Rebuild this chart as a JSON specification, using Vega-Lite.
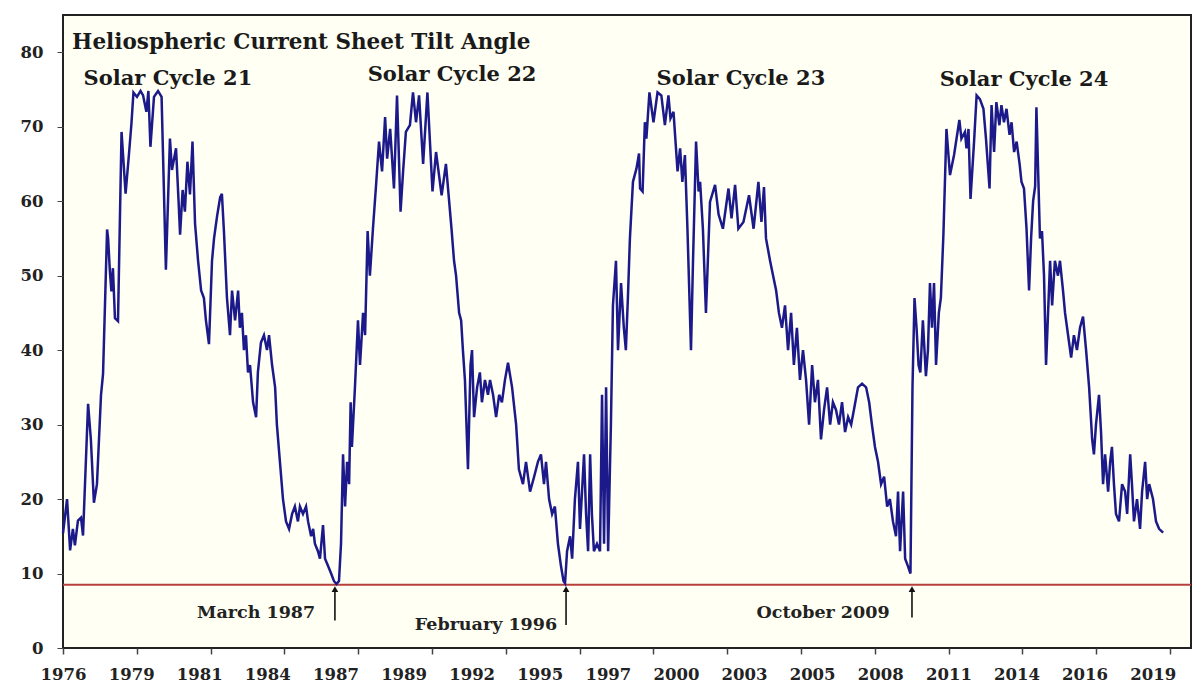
{
  "$schema": "https://vega.github.io/schema/vega-lite/v6.json",
  "width": 1128,
  "height": 633,
  "autosize": {"type": "none"},
  "padding": {"left": 63, "top": 15, "right": 13, "bottom": 51},
  "background": "#ffffff",
  "config": {
    "view": {"fill": "#fffff3", "stroke": "#222222", "strokeWidth": 2},
    "axis": {"labelFont": "DejaVu Serif", "labelFontWeight": "bold", "labelFontSize": 16.5, "labelColor": "#222222", "tickColor": "#444444", "grid": false, "title": null, "domain": false}
  },
  "datasets": {
    "tilt": [
      {"t":1976.38,"v":15.4},{"t":1976.54,"v":20},{"t":1976.66,"v":13.1},{"t":1976.77,"v":16},{"t":1976.85,"v":13.8},{"t":1976.97,"v":17.1},{"t":1977.09,"v":17.5},{"t":1977.17,"v":15.1},{"t":1977.37,"v":32.8},{"t":1977.48,"v":28},{"t":1977.60,"v":19.5},{"t":1977.72,"v":22},{"t":1977.88,"v":34},{"t":1977.96,"v":36.8},{"t":1978.12,"v":56.2},{"t":1978.16,"v":55},{"t":1978.23,"v":50.6},{"t":1978.29,"v":47.9},{"t":1978.35,"v":51},{"t":1978.43,"v":44.3},{"t":1978.55,"v":43.9},{"t":1978.69,"v":69.3},{"t":1978.85,"v":61},{"t":1978.98,"v":66.2},{"t":1979.08,"v":70.4},{"t":1979.16,"v":74.6},{"t":1979.30,"v":74},{"t":1979.44,"v":74.8},{"t":1979.54,"v":74.2},{"t":1979.67,"v":72},{"t":1979.75,"v":74.8},{"t":1979.83,"v":67.3},{"t":1979.97,"v":74},{"t":1980.13,"v":74.8},{"t":1980.27,"v":74},{"t":1980.44,"v":50.8},{"t":1980.60,"v":68.4},{"t":1980.68,"v":64.2},{"t":1980.84,"v":67.1},{"t":1980.94,"v":60},{"t":1981.00,"v":55.5},{"t":1981.10,"v":61.5},{"t":1981.19,"v":58.6},{"t":1981.29,"v":65.3},{"t":1981.39,"v":60.9},{"t":1981.49,"v":68},{"t":1981.59,"v":57},{"t":1981.71,"v":52},{"t":1981.83,"v":48},{"t":1981.94,"v":47},{"t":1982.02,"v":44},{"t":1982.14,"v":40.8},{"t":1982.26,"v":52},{"t":1982.34,"v":55},{"t":1982.46,"v":58},{"t":1982.58,"v":60.5},{"t":1982.65,"v":61},{"t":1982.73,"v":56},{"t":1982.85,"v":47},{"t":1982.97,"v":42},{"t":1983.05,"v":48},{"t":1983.17,"v":44},{"t":1983.29,"v":48},{"t":1983.36,"v":43},{"t":1983.44,"v":45},{"t":1983.52,"v":40},{"t":1983.60,"v":42},{"t":1983.68,"v":37},{"t":1983.76,"v":38},{"t":1983.88,"v":33},{"t":1984.00,"v":31},{"t":1984.07,"v":37},{"t":1984.19,"v":41},{"t":1984.31,"v":42},{"t":1984.43,"v":40},{"t":1984.51,"v":42},{"t":1984.63,"v":38},{"t":1984.75,"v":35},{"t":1984.82,"v":30},{"t":1984.94,"v":25},{"t":1985.06,"v":20},{"t":1985.18,"v":17},{"t":1985.30,"v":16},{"t":1985.42,"v":18},{"t":1985.53,"v":19},{"t":1985.65,"v":17},{"t":1985.73,"v":19},{"t":1985.85,"v":18},{"t":1985.97,"v":19},{"t":1986.05,"v":17},{"t":1986.17,"v":15},{"t":1986.25,"v":16},{"t":1986.32,"v":14},{"t":1986.44,"v":13},{"t":1986.52,"v":12},{"t":1986.64,"v":16.5},{"t":1986.72,"v":12},{"t":1986.84,"v":11},{"t":1986.96,"v":10},{"t":1987.07,"v":9},{"t":1987.17,"v":8.6},
      {"t":1987.27,"v":9},{"t":1987.35,"v":14},{"t":1987.43,"v":26},{"t":1987.51,"v":19},{"t":1987.59,"v":25},{"t":1987.67,"v":22},{"t":1987.73,"v":33},{"t":1987.78,"v":27},{"t":1987.90,"v":35},{"t":1988.02,"v":44},{"t":1988.10,"v":38},{"t":1988.22,"v":45},{"t":1988.30,"v":42},{"t":1988.40,"v":56},{"t":1988.49,"v":50},{"t":1988.61,"v":56.3},{"t":1988.73,"v":62},{"t":1988.85,"v":68},{"t":1988.97,"v":64},{"t":1989.09,"v":71.3},{"t":1989.17,"v":65.7},{"t":1989.29,"v":69.7},{"t":1989.44,"v":61.7},{"t":1989.56,"v":74.2},{"t":1989.70,"v":58.6},{"t":1989.80,"v":64},{"t":1989.91,"v":69.3},{"t":1990.07,"v":70.2},{"t":1990.19,"v":74.6},{"t":1990.31,"v":70.6},{"t":1990.43,"v":74.2},{"t":1990.59,"v":65},{"t":1990.76,"v":74.6},{"t":1990.96,"v":61.3},{"t":1991.10,"v":66.6},{"t":1991.32,"v":60.8},{"t":1991.49,"v":65},{"t":1991.71,"v":56.3},{"t":1991.81,"v":52},{"t":1991.89,"v":50},{"t":1992.01,"v":45},{"t":1992.09,"v":44},{"t":1992.16,"v":40},{"t":1992.24,"v":36},{"t":1992.36,"v":24},{"t":1992.46,"v":38},{"t":1992.52,"v":40},{"t":1992.60,"v":31},{"t":1992.72,"v":35},{"t":1992.83,"v":37},{"t":1992.91,"v":33},{"t":1993.03,"v":36},{"t":1993.15,"v":34},{"t":1993.23,"v":36},{"t":1993.35,"v":34},{"t":1993.47,"v":31},{"t":1993.59,"v":34},{"t":1993.70,"v":33},{"t":1993.82,"v":36},{"t":1993.94,"v":38.3},{"t":1994.10,"v":35},{"t":1994.26,"v":30},{"t":1994.37,"v":24},{"t":1994.53,"v":22},{"t":1994.65,"v":25},{"t":1994.81,"v":21},{"t":1994.97,"v":23},{"t":1995.12,"v":25},{"t":1995.24,"v":26},{"t":1995.36,"v":22},{"t":1995.44,"v":25},{"t":1995.56,"v":20},{"t":1995.68,"v":18},{"t":1995.79,"v":19},{"t":1995.91,"v":14},{"t":1996.03,"v":11},{"t":1996.13,"v":9},{"t":1996.19,"v":8.7},
      {"t":1996.27,"v":13},{"t":1996.39,"v":15},{"t":1996.47,"v":12},{"t":1996.58,"v":20},{"t":1996.70,"v":25},{"t":1996.78,"v":16},{"t":1996.86,"v":21},{"t":1996.94,"v":26},{"t":1997.02,"v":18},{"t":1997.10,"v":13},{"t":1997.18,"v":26},{"t":1997.25,"v":18},{"t":1997.33,"v":13},{"t":1997.45,"v":14},{"t":1997.57,"v":13},{"t":1997.65,"v":34},{"t":1997.73,"v":14},{"t":1997.81,"v":35},{"t":1997.89,"v":13},{"t":1998.00,"v":30},{"t":1998.08,"v":46},{"t":1998.20,"v":52},{"t":1998.28,"v":40},{"t":1998.40,"v":49},{"t":1998.51,"v":43},{"t":1998.59,"v":40},{"t":1998.67,"v":47},{"t":1998.75,"v":55},{"t":1998.87,"v":62.6},{"t":1999.01,"v":64.4},{"t":1999.11,"v":66.4},{"t":1999.15,"v":61.7},{"t":1999.25,"v":61.3},{"t":1999.34,"v":70.6},{"t":1999.40,"v":68.4},{"t":1999.52,"v":74.6},{"t":1999.68,"v":70.6},{"t":1999.84,"v":74.6},{"t":1999.99,"v":74.2},{"t":2000.13,"v":70.2},{"t":2000.27,"v":74.2},{"t":2000.35,"v":71.1},{"t":2000.47,"v":72},{"t":2000.63,"v":64},{"t":2000.73,"v":67.1},{"t":2000.82,"v":62.6},{"t":2000.92,"v":66.2},{"t":2001.02,"v":56.3},{"t":2001.16,"v":40},{"t":2001.24,"v":52},{"t":2001.36,"v":68},{"t":2001.46,"v":61.3},{"t":2001.52,"v":62.6},{"t":2001.63,"v":56.3},{"t":2001.75,"v":45},{"t":2001.91,"v":59.9},{"t":2002.11,"v":62.2},{"t":2002.25,"v":58.2},{"t":2002.42,"v":56.3},{"t":2002.64,"v":61.7},{"t":2002.76,"v":57.7},{"t":2002.90,"v":62.2},{"t":2003.03,"v":56.3},{"t":2003.23,"v":57.2},{"t":2003.45,"v":60.8},{"t":2003.63,"v":56.3},{"t":2003.82,"v":62.6},{"t":2003.94,"v":57.2},{"t":2004.04,"v":61.9},{"t":2004.12,"v":55},{"t":2004.28,"v":52},{"t":2004.40,"v":50},{"t":2004.52,"v":48},{"t":2004.63,"v":45},{"t":2004.75,"v":43},{"t":2004.87,"v":46},{"t":2004.99,"v":40},{"t":2005.11,"v":45},{"t":2005.22,"v":38},{"t":2005.34,"v":43},{"t":2005.46,"v":36},{"t":2005.58,"v":40},{"t":2005.70,"v":36},{"t":2005.82,"v":30},{"t":2005.94,"v":38},{"t":2006.05,"v":33},{"t":2006.17,"v":36},{"t":2006.29,"v":28},{"t":2006.41,"v":32},{"t":2006.53,"v":35},{"t":2006.65,"v":30},{"t":2006.76,"v":33},{"t":2006.88,"v":32},{"t":2007.00,"v":30},{"t":2007.12,"v":33},{"t":2007.24,"v":29},{"t":2007.36,"v":31},{"t":2007.48,"v":30},{"t":2007.59,"v":32},{"t":2007.75,"v":35},{"t":2007.91,"v":35.5},{"t":2008.07,"v":35},{"t":2008.19,"v":33},{"t":2008.30,"v":30},{"t":2008.42,"v":27},{"t":2008.54,"v":25},{"t":2008.66,"v":22},{"t":2008.78,"v":23},{"t":2008.90,"v":19},{"t":2009.01,"v":20},{"t":2009.13,"v":17},{"t":2009.25,"v":15},{"t":2009.33,"v":21},{"t":2009.41,"v":13},{"t":2009.53,"v":21},{"t":2009.61,"v":12},{"t":2009.72,"v":11},{"t":2009.82,"v":10},
      {"t":2009.90,"v":35},{"t":2009.98,"v":47},{"t":2010.06,"v":43},{"t":2010.14,"v":38},{"t":2010.21,"v":37},{"t":2010.31,"v":44},{"t":2010.43,"v":36.5},{"t":2010.51,"v":40},{"t":2010.59,"v":49},{"t":2010.67,"v":43},{"t":2010.75,"v":49},{"t":2010.83,"v":38},{"t":2010.94,"v":45},{"t":2011.02,"v":47},{"t":2011.12,"v":55.5},{"t":2011.24,"v":69.7},{"t":2011.38,"v":63.5},{"t":2011.54,"v":66.2},{"t":2011.75,"v":70.9},{"t":2011.83,"v":68.4},{"t":2011.97,"v":69.3},{"t":2012.03,"v":67.1},{"t":2012.11,"v":69.7},{"t":2012.19,"v":60.3},{"t":2012.33,"v":68},{"t":2012.43,"v":74.2},{"t":2012.56,"v":73.7},{"t":2012.70,"v":72.4},{"t":2012.80,"v":68.4},{"t":2012.94,"v":61.7},{"t":2013.02,"v":72.9},{"t":2013.12,"v":66.6},{"t":2013.21,"v":73.3},{"t":2013.33,"v":70.2},{"t":2013.41,"v":72.9},{"t":2013.51,"v":70.6},{"t":2013.61,"v":72.4},{"t":2013.73,"v":68.9},{"t":2013.81,"v":70.6},{"t":2013.91,"v":66.6},{"t":2014.01,"v":68},{"t":2014.13,"v":64.9},{"t":2014.20,"v":62.6},{"t":2014.30,"v":61.7},{"t":2014.40,"v":56.3},{"t":2014.50,"v":48},{"t":2014.58,"v":55},{"t":2014.66,"v":60},{"t":2014.74,"v":62},{"t":2014.79,"v":72.6},{"t":2014.93,"v":55},{"t":2015.01,"v":56},{"t":2015.09,"v":50},{"t":2015.17,"v":38},{"t":2015.25,"v":45},{"t":2015.33,"v":52},{"t":2015.41,"v":46},{"t":2015.52,"v":52},{"t":2015.64,"v":50},{"t":2015.72,"v":52},{"t":2015.84,"v":48},{"t":2015.92,"v":45},{"t":2016.04,"v":42},{"t":2016.16,"v":39},{"t":2016.27,"v":42},{"t":2016.39,"v":40},{"t":2016.51,"v":43},{"t":2016.63,"v":44.5},{"t":2016.75,"v":40},{"t":2016.87,"v":35},{"t":2016.99,"v":28},{"t":2017.06,"v":26},{"t":2017.14,"v":30},{"t":2017.26,"v":34},{"t":2017.34,"v":29},{"t":2017.42,"v":22},{"t":2017.50,"v":26},{"t":2017.62,"v":21},{"t":2017.70,"v":25},{"t":2017.77,"v":27},{"t":2017.85,"v":22},{"t":2017.93,"v":18},{"t":2018.05,"v":17},{"t":2018.17,"v":22},{"t":2018.29,"v":21},{"t":2018.37,"v":18},{"t":2018.49,"v":26},{"t":2018.56,"v":22},{"t":2018.64,"v":17},{"t":2018.76,"v":20},{"t":2018.88,"v":16},{"t":2018.96,"v":21},{"t":2019.08,"v":25},{"t":2019.16,"v":20},{"t":2019.24,"v":22},{"t":2019.39,"v":20},{"t":2019.51,"v":17},{"t":2019.63,"v":16},{"t":2019.79,"v":15.5}
    ],
    "title": [
      {"text": "Heliospheric Current Sheet Tilt Angle", "t": 1976.74, "v": 81.3}
    ],
    "labels": [
      {"text": "Solar Cycle 21", "t": 1980.52, "v": 76.4},
      {"text": "Solar Cycle 22", "t": 1991.73, "v": 76.9},
      {"text": "Solar Cycle 23", "t": 2003.13, "v": 76.4},
      {"text": "Solar Cycle 24", "t": 2014.30, "v": 76.3}
    ],
    "minima": [
      {"text": "March 1987", "lt": 1984.0, "lv": 4.68, "t": 1987.11, "tail": 3.7, "tip": 7.9},
      {"text": "February 1996", "lt": 1993.07, "lv": 3.08, "t": 1996.23, "tail": 3.1, "tip": 7.9},
      {"text": "October 2009", "lt": 2006.37, "lv": 4.68, "t": 2009.88, "tail": 4.1, "tip": 7.9}
    ],
    "threshold": [{"v": 8.5}]
  },
  "layer": [
    {
      "data": {"name": "threshold"},
      "mark": {"type": "rule", "color": "#b8403c", "strokeWidth": 2},
      "encoding": {
        "y": {"field": "v", "type": "quantitative", "scale": {"domain": [0, 85], "nice": false, "zero": true}}
      }
    },
    {
      "data": {"name": "tilt"},
      "mark": {"type": "line", "color": "#1c1a8a", "strokeWidth": 2.5, "interpolate": "linear"},
      "encoding": {
        "x": {"field": "t", "type": "quantitative",
              "scale": {"domain": [1976.38, 2020.89], "nice": false, "zero": false},
              "axis": {"orient": "bottom", "ticks": false, "labelPadding": 18,
                       "values": [1976.38, 1979.07, 1981.755, 1984.44, 1987.13, 1989.82, 1992.505, 1995.19, 1997.88, 2000.57, 2003.255, 2005.94, 2008.63, 2011.32, 2014.005, 2016.69, 2019.38],
                       "labelExpr": "floor(datum.value)", "labelFlush": false, "labelOverlap": false}},
        "y": {"field": "v", "type": "quantitative",
              "scale": {"domain": [0, 85], "nice": false, "zero": true},
              "axis": {"values": [0, 10, 20, 30, 40, 50, 60, 70, 80], "tickSize": 6, "labelPadding": 14, "labelBaseline": "middle"}}
      }
    },
    {
      "data": {"name": "minima"},
      "mark": {"type": "rule", "color": "#111111", "strokeWidth": 1.6},
      "encoding": {
        "x": {"field": "t", "type": "quantitative",
              "axis": {"orient": "bottom", "labels": false, "ticks": true, "tickSize": 6, "tickWidth": 1.5,
                       "values": [1976.38, 1979.292, 1982.204, 1985.116, 1988.028, 1990.94, 1993.852, 1996.764, 1999.676, 2002.588, 2005.5, 2008.412, 2011.324, 2014.236, 2017.148, 2020.06]}},
        "y": {"field": "tail", "type": "quantitative"},
        "y2": {"field": "tip"}
      }
    },
    {
      "data": {"name": "minima"},
      "mark": {"type": "point", "shape": "triangle-up", "filled": true, "color": "#111111", "size": 45, "opacity": 1},
      "encoding": {
        "x": {"field": "t", "type": "quantitative", "axis": null},
        "y": {"field": "tip", "type": "quantitative"}
      }
    },
    {
      "data": {"name": "minima"},
      "mark": {"type": "text", "font": "DejaVu Serif", "fontWeight": "bold", "fontSize": 17.5, "color": "#222222", "baseline": "middle", "align": "center"},
      "encoding": {
        "x": {"field": "lt", "type": "quantitative", "axis": null},
        "y": {"field": "lv", "type": "quantitative"},
        "text": {"field": "text"}
      }
    },
    {
      "data": {"name": "labels"},
      "mark": {"type": "text", "font": "DejaVu Serif", "fontWeight": "bold", "fontSize": 21, "color": "#1a1a1a", "baseline": "middle", "align": "center"},
      "encoding": {
        "x": {"field": "t", "type": "quantitative", "axis": null},
        "y": {"field": "v", "type": "quantitative"},
        "text": {"field": "text"}
      }
    },
    {
      "data": {"name": "title"},
      "mark": {"type": "text", "font": "DejaVu Serif", "fontWeight": "bold", "fontSize": 21.5, "color": "#1a1a1a", "baseline": "middle", "align": "left"},
      "encoding": {
        "x": {"field": "t", "type": "quantitative", "axis": null},
        "y": {"field": "v", "type": "quantitative"},
        "text": {"field": "text"}
      }
    }
  ],
  "resolve": {"axis": {"x": "independent"}}
}
